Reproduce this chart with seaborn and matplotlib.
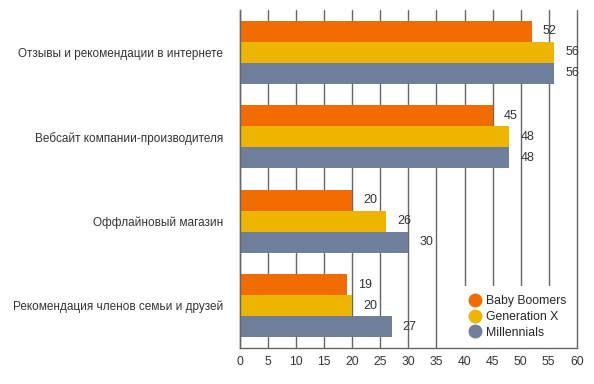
import pandas as pd
import matplotlib.pyplot as plt
import seaborn as sns
from matplotlib.lines import Line2D

# Chart data
categories = ['Отзывы и рекомендации в интернете',
              'Вебсайт компании-производителя',
              'Оффлайновый магазин',
              'Рекомендация членов семьи и друзей']
generations = ['Baby Boomers', 'Generation X', 'Millennials']
baby_boomers = [52, 45, 20, 19]
generation_x = [56, 48, 26, 20]
millennials = [56, 48, 30, 27]
x_ticks = list(range(0, 61, 5))

colors = ['#F06C00', '#EDB400', '#6E7E9B']

# Long format for seaborn
rows = []
for gen, vals in zip(generations, [baby_boomers, generation_x, millennials]):
    for cat, v in zip(categories, vals):
        rows.append({'category': cat, 'generation': gen, 'value': v})
df = pd.DataFrame(rows)

sns.set_style('white')
plt.rcParams['font.family'] = ['Liberation Sans', 'DejaVu Sans']

fig, ax = plt.subplots(figsize=(5.94, 3.84), dpi=100)
fig.subplots_adjust(left=0.404, right=0.971, top=0.974, bottom=0.094)

sns.barplot(data=df, x='value', y='category', hue='generation', orient='h',
            palette=colors, width=0.75, saturation=1, ax=ax, zorder=3,
            linewidth=0, legend=False)

for cont in ax.containers:
    ax.bar_label(cont, padding=8, fontsize=9, color='#333333')

ax.set_xlim(0, 60)
ax.set_ylim(3.5, -0.5)
ax.set_xticks(x_ticks)
ax.grid(axis='x', color='#666666', linewidth=1, zorder=0)
for gl in ax.get_xgridlines():
    gl.set_clip_on(False)
ax.set_axisbelow(True)
ax.set_xlabel('')
ax.set_ylabel('')
ax.tick_params(axis='x', length=0, labelsize=8.7, colors='#333333', pad=6)
ax.tick_params(axis='y', length=0, labelsize=8.5, colors='#333333', pad=12)
for s in ['top', 'right']:
    ax.spines[s].set_visible(False)
for s in ['left', 'bottom']:
    ax.spines[s].set_color('#666666')
    ax.spines[s].set_linewidth(1)
    ax.spines[s].set_zorder(6)

handles = [Line2D([], [], marker='o', linestyle='', markersize=9,
                  markerfacecolor=c, markeredgecolor=c) for c in colors]
leg = ax.legend(handles, generations, loc='lower right',
                bbox_to_anchor=(0.995, 0.0), frameon=True, fontsize=8.8,
                handletextpad=0.3, labelspacing=0.3, borderpad=0.75,
                handlelength=1.2, borderaxespad=0)
leg.get_frame().set_facecolor('white')
leg.get_frame().set_edgecolor('none')
leg.get_frame().set_alpha(1)
leg.set_zorder(5)

plt.savefig('out.png', dpi=100)
